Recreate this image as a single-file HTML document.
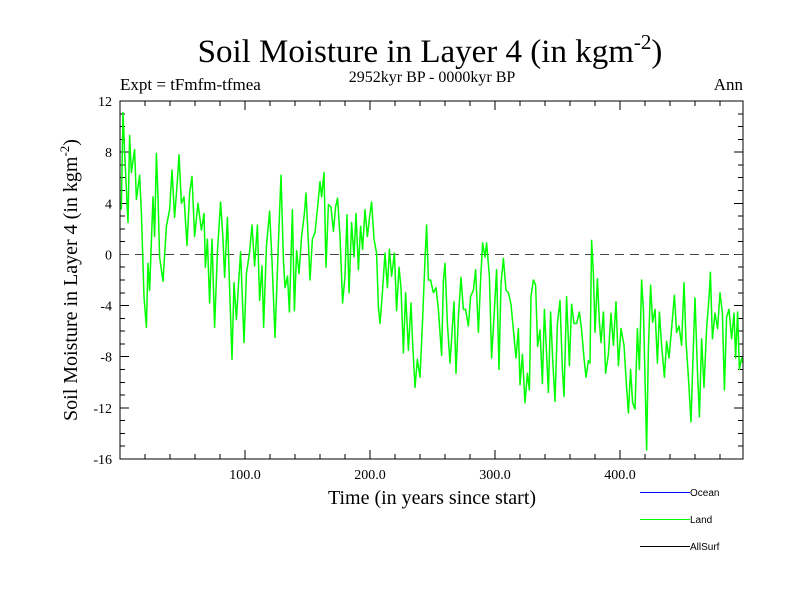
<!DOCTYPE html>
<html><head><meta charset="utf-8"><style>
body{margin:0;background:#fff;}
svg{display:block;font-family:"Liberation Serif",serif;}
</style></head><body>
<svg id="chart" width="800" height="600" viewBox="0 0 800 600">
<text x="430" y="62" font-size="33" text-anchor="middle">Soil Moisture in Layer 4 (in kgm<tspan dy="-13" font-size="21">-2</tspan><tspan dy="13">)</tspan></text>
<text x="120" y="90" font-size="17">Expt = tFmfm-tfmea</text>
<text x="432" y="82" font-size="16" text-anchor="middle">2952kyr BP - 0000kyr BP</text>
<text x="743" y="90" font-size="17" text-anchor="end">Ann</text>
<text transform="translate(77,280) rotate(-90)" font-size="20" text-anchor="middle">Soil Moisture in Layer 4 (in kgm<tspan dy="-8" font-size="13">-2</tspan><tspan dy="8">)</tspan></text>
<text x="432" y="504" font-size="20" text-anchor="middle">Time (in years since start)</text>
<g id="axes" shape-rendering="crispEdges"></g>
<g id="series"></g>
<rect x="120" y="101" width="623" height="358" fill="none" stroke="#000" stroke-width="1" shape-rendering="crispEdges"/>
<g font-family="Liberation Sans,sans-serif" font-size="10" shape-rendering="crispEdges">
<line x1="640" y1="492.5" x2="690" y2="492.5" stroke="#0000ff"/>
<text x="690" y="496">Ocean</text>
<line x1="640" y1="519.5" x2="690" y2="519.5" stroke="#00ff00"/>
<text x="690" y="523">Land</text>
<line x1="640" y1="546.5" x2="690" y2="546.5" stroke="#000"/>
<text x="690" y="550">AllSurf</text>
</g>
</svg>
<script>
const years=[1,2.4,3.7,6.4,7.7,9.1,11.7,13.1,15.7,17.1,19.2,21.1,22.4,23.7,26.4,27.7,29.1,30.4,31.7,34.4,37.1,39.7,41.6,43.7,45.9,47.2,49.1,51.2,53.6,55.7,57.6,59.7,62.4,65.1,67.2,68.3,69.9,71.7,73.6,75.7,77.9,80.5,82.4,83.7,85.9,87.7,89.6,91.2,93.1,94.9,96.5,99.2,101.1,103.7,105.6,107.7,109.9,111.7,113.6,114.9,117.1,119.7,121.6,124,126.7,128.8,130.7,132,134,135.5,137.9,139.5,141.3,143.2,145.3,147.5,148.8,150.7,152,153.9,156,158.1,160,161.3,163.2,164.8,166.7,168.8,170.7,172.5,174.1,176,178.1,180,181.6,183.2,185.3,187.2,188.8,190.7,192.5,194.1,196,197.9,199.5,201.3,203.2,205.3,206.7,208,209.9,212,213.9,215.5,217.3,219.5,221.3,223.2,224.8,226.7,228.5,230.7,232.8,234.1,236,237.9,240,242.1,244,245.3,246.7,248.5,250.7,252.8,254.7,257.3,258.7,260,261.9,264,265.3,267.2,268.8,270.7,272.8,274.7,276.5,278.7,280.5,282.7,284.5,286.7,288.5,290.1,292,293.3,295.5,297.3,299.2,301.3,303.2,304.8,306.7,308.8,310.7,312.8,314.7,316.8,318.7,320,321.9,324,325.9,327.5,328.8,330.7,332.5,334.1,336,337.9,339.5,341.3,342.7,344.5,346.1,348,349.9,352,353.9,355.2,357.3,359.5,361.3,363.2,365.3,367.5,369.3,371.2,372.8,374.7,376,377.3,378.7,380,381.9,383.5,384.8,386.7,388.5,390.7,392.8,394.7,396.8,398.7,400.8,403.2,405.3,406.7,408.5,410.1,412,413.9,415.5,417.3,418.7,420,421.3,422.7,424.5,426.1,428,429.9,431.5,433.3,435.5,437.3,439.2,441.3,443.5,445.3,447.2,449.3,451.2,452.8,454.7,456.8,458.7,460,461.9,463.5,465.3,467.2,469.3,471.2,472.3,473.9,476,478.1,480,481.9,483.5,485.3,487.2,489.3,491.2,492.5,494.1,495.5,497.3,498.4];
const land=[3.5,11.1,8,2.5,9.3,6.4,8.2,4.3,6.2,3.2,-3.3,-5.7,-0.7,-2.8,4.5,1.4,7.9,4.5,-0.2,-2.1,2.2,3.5,6.6,2.9,5.8,7.8,4.0,4.5,0.7,4.8,6.1,1.4,4.0,1.9,3.2,-1.0,1.2,-3.8,1.2,-5.7,0.2,4.1,1.2,-1.8,2.9,-2.6,-8.2,-2.2,-5.1,-2.2,0.2,-6.9,-1.5,0.2,2.3,-0.9,2.3,-3.6,-0.9,-5.7,0.6,3.4,-0.5,-6.5,0.9,6.2,-0.4,-2.6,-1.7,-4.5,3.5,-4.4,0.3,-1.5,1.4,3.2,4.8,0.9,-2.0,1.2,1.7,3.7,5.7,4.5,6.4,-1.0,3.9,3.7,1.8,3.7,4.4,1.4,-3.8,-1.7,3.1,-3.0,2.5,-0.2,3.2,-1.2,2.2,0.4,3.5,1.4,2.8,4.1,1.2,0.1,-4.1,-5.4,-3.0,0.1,-2.6,0.4,-1.7,0.1,-4.4,-1.0,-2.6,-7.7,-3.0,-7.5,-3.8,-6.9,-10.4,-8.2,-9.6,-5.1,-0.4,2.3,-2.0,-2.0,-3.0,-2.6,-4.3,-7.9,-2.0,-0.7,-5.4,-8.5,-6.6,-3.7,-9.3,-4.9,-1.8,-4.3,-4.3,-5.6,-3.3,-2.8,-1.2,-6.1,-2.0,0.9,-0.2,0.9,-1.7,-8.1,-4.9,-1.2,-9.0,-2.3,-0.3,-2.8,-3.0,-3.9,-5.9,-8.1,-5.8,-10.2,-7.8,-11.6,-9.3,-10.6,-3.3,-2.0,-2.4,-7.2,-5.9,-10.1,-4.3,-7.8,-10.8,-4.5,-8.1,-11.5,-5.4,-3.6,-9.0,-11.1,-3.3,-8.7,-3.9,-5.4,-5.4,-4.5,-5.9,-8.1,-9.6,-8.3,-8.5,1.1,-1.5,-6.1,-1.9,-5.3,-6.9,-4.5,-9.3,-7.8,-4.6,-7.1,-3.7,-8.7,-5.8,-7.1,-10.4,-12.4,-9.0,-11.6,-12.1,-5.8,-9.0,-2.0,-4.3,-9.6,-15.3,-7.4,-2.4,-5.3,-4.3,-8.5,-4.5,-7.1,-9.6,-6.8,-8.1,-5.8,-3.2,-6.1,-5.6,-7.1,-2.2,-6.8,-9.6,-13.1,-7.1,-3.4,-9.0,-12.7,-6.6,-10.4,-5.8,-3.4,-1.4,-6.6,-4.6,-5.8,-3.0,-4.6,-10.6,-4.9,-4.3,-6.6,-4.6,-8.1,-4.5,-9.0,-8.1,-8.5];
const yTicks=[-16,-12,-8,-4,0,4,8,12];
const xTickLabels=["100.0","200.0","300.0","400.0"];
const xTickVals=[100,200,300,400];
const X0=120,X1=743,Y0=459,Y1=101,XMIN=0,XMAX=498.4,YMIN=-16,YMAX=12;
const xs=v=>X0+(v-XMIN)/(XMAX-XMIN)*(X1-X0);
const ys=v=>Y0-(v-YMIN)/(YMAX-YMIN)*(Y0-Y1);
const NS="http://www.w3.org/2000/svg";
const axes=document.getElementById('axes');
function mk(tag,attrs,parent){const e=document.createElementNS(NS,tag);for(const k in attrs)e.setAttribute(k,attrs[k]);parent.appendChild(e);return e;}
for(let v=YMIN;v<=YMAX;v++){
  const major=v%4===0,len=major?9:5;
  const t1=mk('line',{x1:X0,y1:ys(v),x2:X0+len,y2:ys(v),stroke:'#000'},axes);
  
  
  const t2=mk('line',{x1:X1,y1:ys(v),x2:X1-len,y2:ys(v),stroke:'#000'},axes);
  
  
}
yTicks.forEach(v=>{
  const t=mk('text',{x:X0-8,y:ys(v)+5,'font-size':14,'text-anchor':'end'},axes);
  t.textContent=String(v);
  
  
});
for(let v=20;v<XMAX;v+=20){
  const major=v%100===0,len=major?9:5;
  const t1=mk('line',{x1:xs(v),y1:Y0,x2:xs(v),y2:Y0-len,stroke:'#000'},axes);
  
  
  const t2=mk('line',{x1:xs(v),y1:Y1,x2:xs(v),y2:Y1+len,stroke:'#000'},axes);
  
  
}
xTickVals.forEach((v,i)=>{
  const t=mk('text',{x:xs(v),y:Y0+20,'font-size':14,'text-anchor':'middle'},axes);
  t.textContent=xTickLabels[i];
  
  
});
const zl=mk('line',{x1:X0,y1:ys(0),x2:X1,y2:ys(0),stroke:'#444','stroke-dasharray':'9,6'},axes);


const pts=years.map((y,i)=>xs(y).toFixed(1)+','+ys(land[i]).toFixed(1)).join(' ');
const pl=mk('polyline',{points:pts,fill:'none',stroke:'#00ff00','stroke-width':1.5,'stroke-linejoin':'round'},document.getElementById('series'));


</script>
</body></html>
